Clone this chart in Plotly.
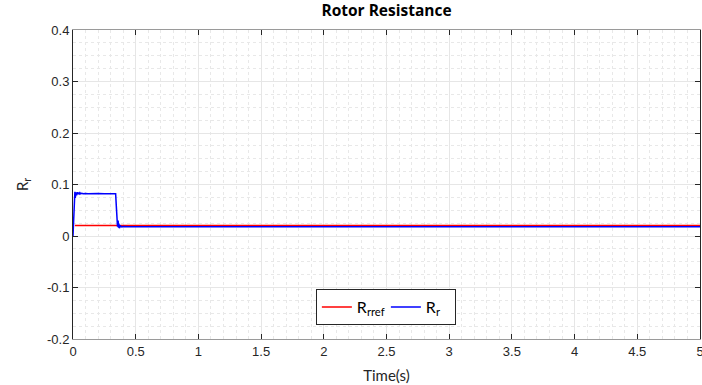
import plotly.graph_objects as go

# Reference rotor resistance
t_ref = [0.015, 0.5, 1.0, 2.0, 3.0, 4.0, 5.0]
r_ref = [0.0205, 0.0205, 0.0205, 0.0205, 0.0205, 0.0205, 0.0205]

# Estimated rotor resistance
t_est = [0.0, 0.004, 0.008, 0.010, 0.012, 0.015, 0.018, 0.020, 0.022, 0.025, 0.028, 0.030,
         0.033, 0.036, 0.040, 0.045, 0.050, 0.055, 0.060, 0.070, 0.080, 0.090, 0.100,
         0.120, 0.150, 0.180, 0.200, 0.250, 0.300, 0.340, 0.345, 0.350, 0.355, 0.360,
         0.363, 0.366, 0.370, 0.374, 0.378, 0.382, 0.390, 0.400, 0.450, 0.500, 1.0,
         2.0, 3.0, 4.0, 5.0]
r_est = [0.0, 0.030, 0.060, 0.078, 0.070, 0.086, 0.074, 0.083, 0.076, 0.085, 0.079, 0.084,
         0.080, 0.085, 0.081, 0.084, 0.082, 0.084, 0.082, 0.083, 0.082, 0.083, 0.0825,
         0.082, 0.0825, 0.082, 0.0823, 0.0822, 0.0822, 0.0822, 0.060, 0.035, 0.018, 0.030,
         0.016, 0.024, 0.015, 0.021, 0.017, 0.019, 0.0175, 0.0185, 0.018, 0.0182, 0.018,
         0.018, 0.018, 0.018, 0.018]

x_ticks = [0, 0.5, 1, 1.5, 2, 2.5, 3, 3.5, 4, 4.5, 5]
x_tick_text = ["0", "0.5", "1", "1.5", "2", "2.5", "3", "3.5", "4", "4.5", "5"]
y_ticks = [-0.2, -0.1, 0, 0.1, 0.2, 0.3, 0.4]
y_tick_text = ["-0.2", "-0.1", "0", "0.1", "0.2", "0.3", "0.4"]

fig = go.Figure()
fig.add_trace(go.Scatter(x=t_ref, y=r_ref, mode="lines", name="R<sub>rref</sub>",
                         line=dict(color="#ff0000", width=1.5)))
fig.add_trace(go.Scatter(x=t_est, y=r_est, mode="lines", name="R<sub>r</sub>",
                         line=dict(color="#0000ff", width=1.5)))

tick_font = dict(family="Liberation Sans, Arial, sans-serif", size=13, color="#262626")
label_font = dict(family="Lato, Calibri, sans-serif", size=15, color="#262626")

fig.update_layout(
    width=702, height=385,
    margin=dict(l=73, r=2, t=30, b=46, autoexpand=False),
    paper_bgcolor="white", plot_bgcolor="white",
    title=dict(text="<b>Rotor Resistance</b>", x=0.5, xanchor="center",
               xref="paper", y=1, yref="container", yanchor="top", pad=dict(t=5),
               font=dict(family="Open Sans, sans-serif", size=15.5, color="black")),
    showlegend=True,
    legend=dict(x=0.499, y=0.1036, xanchor="center", yanchor="middle", orientation="h",
                bordercolor="#262626", borderwidth=1, bgcolor="white",
                font=dict(family="Lato, Calibri, sans-serif", size=16, color="black"),
                itemwidth=30, entrywidth=24, entrywidthmode="pixels", tracegroupgap=0),
    xaxis=dict(range=[0, 5], tickvals=x_ticks, ticktext=x_tick_text, automargin=False,
               showgrid=True, gridcolor="#e6e6e6", gridwidth=1,
               minor=dict(dtick=0.1, showgrid=True, gridcolor="#e8e8e8", griddash="dot", gridwidth=1),
               ticks="inside", ticklen=5, tickcolor="#262626",
               showline=True, linecolor="#9a9a9a", linewidth=1, mirror="ticks",
               zeroline=False, tickfont=tick_font, ticklabeloverflow="allow",
               title=dict(text="Time(s)", font=label_font, standoff=12)),
    yaxis=dict(range=[-0.2, 0.4], tickvals=y_ticks, ticktext=y_tick_text, automargin=False,
               showgrid=True, gridcolor="#e6e6e6", gridwidth=1,
               minor=dict(dtick=0.025, showgrid=True, gridcolor="#e8e8e8", griddash="dot", gridwidth=1),
               ticks="inside", ticklen=5, tickcolor="#262626",
               showline=True, linecolor="#262626", linewidth=1, mirror="ticks",
               zeroline=False, tickfont=tick_font,
               title=dict(text="R<sub>r</sub>", font=label_font, standoff=14)),
)

fig.write_html("out.html")
